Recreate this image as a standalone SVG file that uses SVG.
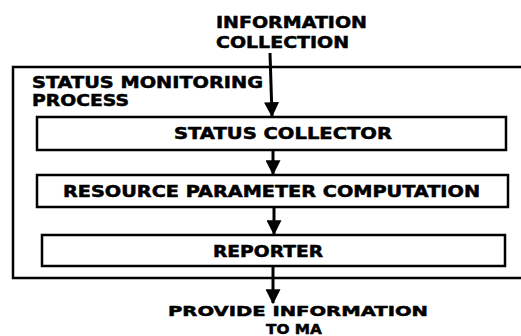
<svg xmlns="http://www.w3.org/2000/svg" width="521" height="336" viewBox="0 0 521 336">
<defs>
<style>
.t{font-family:"DejaVu Sans","Liberation Sans",sans-serif;font-weight:bold;font-size:15px;fill:#000;stroke:#000;stroke-width:0.5}
.s{font-size:14px}
.box{fill:#fff;stroke:#000;stroke-width:2.5}
.frame{fill:none;stroke:#000;stroke-width:2.5}
.ar{stroke:#000;stroke-width:3;fill:none}
</style>
<marker id="ah" markerWidth="5" markerHeight="5" refX="4.6" refY="2.5" orient="auto" markerUnits="strokeWidth" viewBox="0 0 5 5">
<path d="M0,0 L5,2.5 L0,5 Z" fill="#000"/>
</marker>
</defs>
<rect width="521" height="336" fill="#fff"/>
<g id="frame">
<path class="frame" d="M530,67 H13 V278 H530"/>
<text class="t" x="32" y="88" textLength="231" lengthAdjust="spacingAndGlyphs">STATUS MONITORING</text>
<text class="t" x="32" y="106" textLength="97" lengthAdjust="spacingAndGlyphs">PROCESS</text>
</g>
<g id="input-label">
<text class="t" x="216" y="28" textLength="151" lengthAdjust="spacingAndGlyphs">INFORMATION</text>
<text class="t" x="216" y="48" textLength="133" lengthAdjust="spacingAndGlyphs">COLLECTION</text>
</g>
<g id="status-collector">
<rect class="box" x="37" y="117" width="469" height="33"/>
<text class="t" x="174" y="139" textLength="218" lengthAdjust="spacingAndGlyphs">STATUS COLLECTOR</text>
</g>
<g id="resource-parameter-computation">
<rect class="box" x="37" y="175" width="471" height="32"/>
<text class="t" x="63" y="197" textLength="417" lengthAdjust="spacingAndGlyphs">RESOURCE PARAMETER COMPUTATION</text>
</g>
<g id="reporter">
<rect class="box" x="42" y="235" width="463" height="31"/>
<text class="t" x="213" y="257" textLength="110" lengthAdjust="spacingAndGlyphs">REPORTER</text>
</g>
<g id="output-label">
<text class="t s" x="168" y="316" textLength="260" lengthAdjust="spacingAndGlyphs">PROVIDE INFORMATION</text>
<text class="t s" x="266" y="334" textLength="56" lengthAdjust="spacingAndGlyphs">TO MA</text>
</g>
<g id="connectors">
<line class="ar" x1="270" y1="53" x2="272" y2="116" marker-end="url(#ah)"/>
<line class="ar" x1="273" y1="151" x2="273" y2="174" marker-end="url(#ah)"/>
<line class="ar" x1="274" y1="208" x2="274" y2="234" marker-end="url(#ah)"/>
<line class="ar" x1="273" y1="267" x2="273" y2="303" marker-end="url(#ah)"/>
</g>
</svg>
